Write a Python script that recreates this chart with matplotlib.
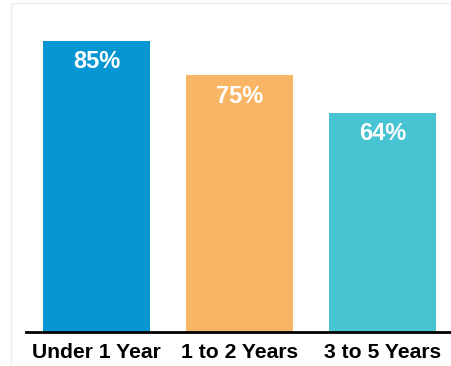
import matplotlib.pyplot as plt
from matplotlib.patches import Rectangle

categories = ['Under 1 Year', '1 to 2 Years', '3 to 5 Years']
values = [85, 75, 64]
colors = ['#0796d4', '#f9b566', '#47c3d2']

fig = plt.figure(figsize=(4.51, 3.66), dpi=100)
fig.patches.append(Rectangle((11 / 451, 0), 1, 363 / 366, transform=fig.transFigure,
                             facecolor='white', edgecolor='#efefef', lw=1, zorder=-5))
ax = fig.add_axes([26 / 451, 34 / 366, 1 - 26 / 451, (332 - 30.7) / 366])
ax.patch.set_alpha(0)

x = range(len(categories))
bars = ax.bar(x, values, width=0.748, color=colors)
for b, v in zip(bars, values):
    ax.annotate(f'{v}%', (b.get_x() + b.get_width() / 2, v), xytext=(0, -21),
                textcoords='offset pixels', ha='center', va='center',
                color='white', fontsize=17, fontweight='bold', fontstretch='normal',
                family=['Liberation Sans', 'DejaVu Sans'])

ax.set_xlim(-0.493, 2.479)
ax.set_ylim(0, 88)
ax.set_xticks(list(x))
ax.set_xticklabels(categories, fontsize=15.2, fontweight='bold', fontstretch='condensed',
                   family=['Liberation Sans', 'DejaVu Sans'])
ax.tick_params(axis='x', length=0, pad=8)
ax.set_yticks([])
for s in ['top', 'right', 'left']:
    ax.spines[s].set_visible(False)
ax.spines['bottom'].set_linewidth(2)

fig.savefig('out.png', dpi=100)
